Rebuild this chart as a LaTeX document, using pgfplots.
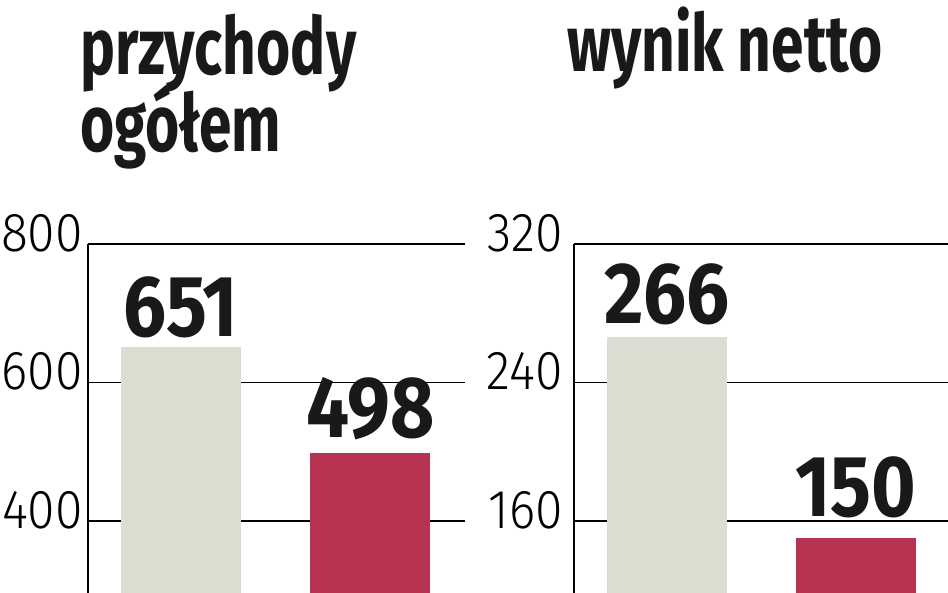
\documentclass[border=0pt]{standalone}
\usepackage{fontspec}
\setmainfont{Fira Sans}
\usepackage{pgfplots}
\pgfplotsset{compat=1.18}

\newfontfamily\boldc[FakeStretch=0.735]{Fira Sans Bold}
\newfontfamily\valc[FakeStretch=0.88]{Fira Sans Bold}
\newfontfamily\lightc[FakeStretch=0.91]{Fira Sans Light}
\newcommand{\titlefont}{\boldc\fontsize{80}{80}\selectfont}
\newcommand{\valfont}{\valc\fontsize{87}{87}\selectfont}
\newcommand{\tickfont}{\lightc\fontsize{55}{55}\selectfont}

\definecolor{barGrey}{RGB}{220,221,209}
\definecolor{barRed}{RGB}{184,51,80}

\pgfplotsset{
  panel/.style={
    scale only axis,
    anchor=south west,
    height=349bp,
    axis x line=none,
    axis y line=left,
    y axis line style={-, line width=1.4bp, black},
    ymajorgrids,
    grid style={line width=1.3bp, black},
    major tick length=0pt,
    ybar, bar width=120bp, bar shift=0pt,
    /pgf/number format/assume math mode=true,
    yticklabel style={font=\tickfont, anchor=east, inner sep=0pt, yshift=11bp},
    nodes near coords,
    nodes near coords style={font=\valfont, text=black!90, inner sep=0pt, anchor=south},
    clip=false,
  },
}

\begin{document}
\begin{tikzpicture}
\clip (0,0) rectangle (948bp,593bp);
\path[use as bounding box] (0,0) rectangle (948bp,593bp);

% przychody ogolem
\begin{axis}[panel, at={(88bp,0bp)}, width=377bp,
  xmin=-0.491, xmax=1.499, ymin=296, ymax=800,
  ytick={400,600,800},
  yticklabel style={xshift=-5bp}]
\addplot[fill=barGrey, draw=none, every node near coord/.append style={yshift=9bp}]
  coordinates {(0,651)};
\addplot[fill=barRed, draw=none, every node near coord/.append style={yshift=13bp}]
  coordinates {(1,498)};
\end{axis}

% wynik netto
\begin{axis}[panel, at={(574bp,0bp)}, width=374bp,
  xmin=-0.492, xmax=1.487, ymin=118.4, ymax=320,
  ytick={160,240,320},
  yticklabel style={xshift=-11bp}]
\addplot[fill=barGrey, draw=none, every node near coord/.append style={yshift=12bp}]
  coordinates {(0,266)};
\addplot[fill=barRed, draw=none, every node near coord/.append style={yshift=20bp}]
  coordinates {(1,150)};
\end{axis}

\node[anchor=base west, inner sep=0pt, font=\titlefont, text=black!90] at (80bp,518bp) {przychody};
\node[anchor=base west, inner sep=0pt, font=\titlefont, text=black!90] at (80bp,441bp) {ogółem};
\node[anchor=base west, inner sep=0pt, font=\titlefont, text=black!90] at (567bp,521bp) {wynik netto};
\end{tikzpicture}
\end{document}
